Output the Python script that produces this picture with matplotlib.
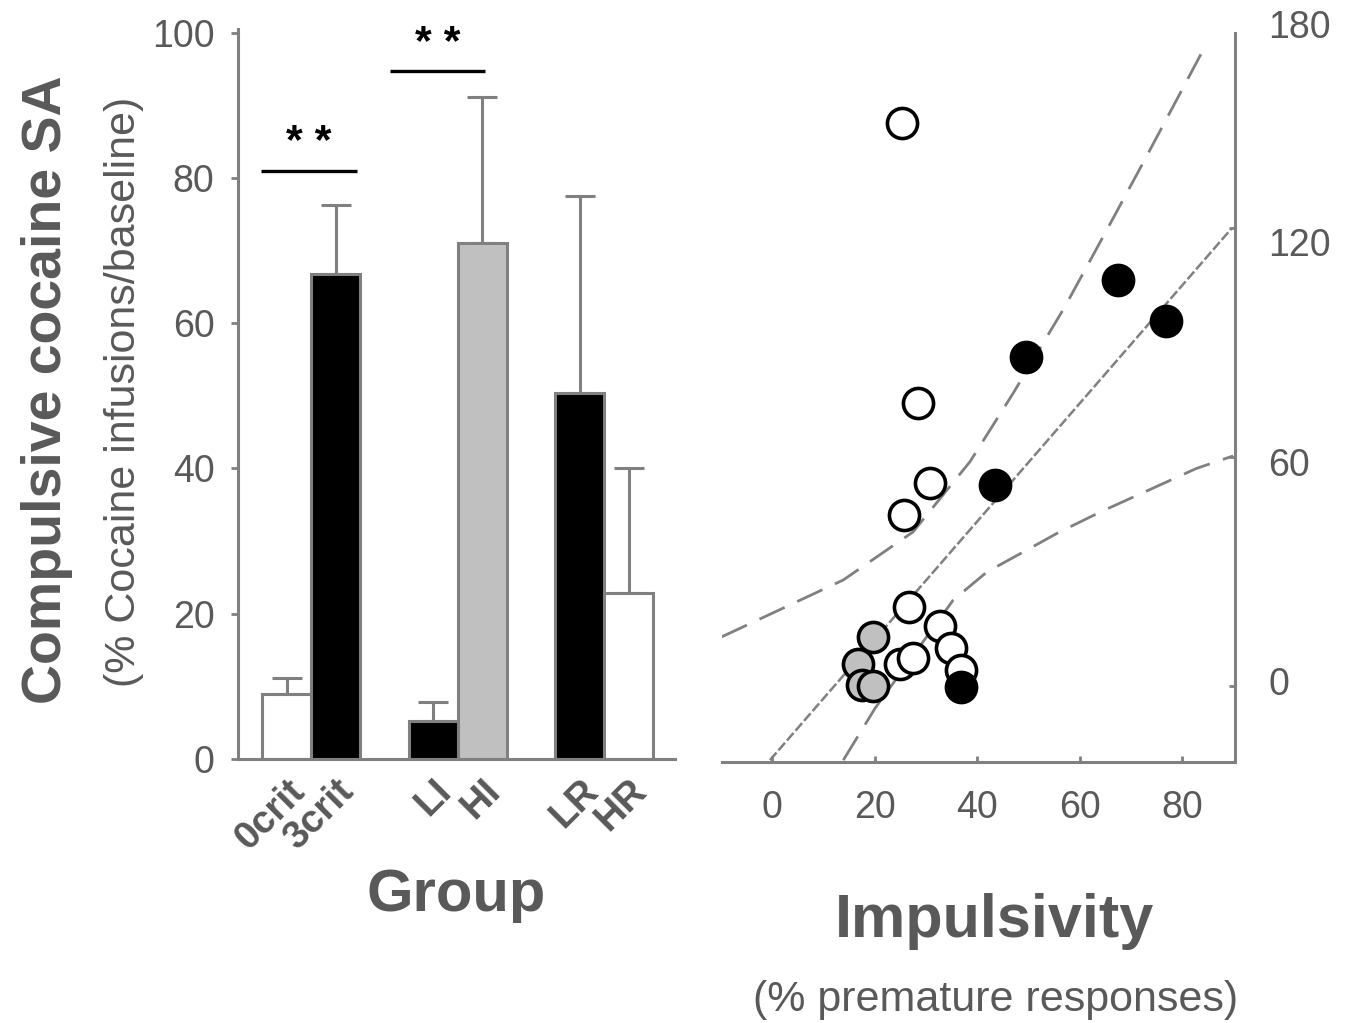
import numpy as np
import matplotlib
matplotlib.use("Agg")
import matplotlib.pyplot as plt

plt.rcParams['font.family'] = ['Liberation Sans', 'DejaVu Sans']

# bar chart data
groups = ["0crit", "3crit", "LI", "HI", "LR", "HR"]
bar_pos = [1, 2, 4, 5, 7, 8]
bar_vals = [9.0, 66.7, 5.2, 71.0, 50.4, 22.9]
bar_err = [2.1, 9.6, 2.6, 20.2, 27.1, 17.1]
bar_cols = ["white", "black", "black", "#c0c0c0", "black", "white"]

# significance bars: (x start, x end, y)
sig_x1 = [0.47, 3.11]
sig_x2 = [2.44, 5.06]
sig_y = [81.0, 94.7]

# scatter data (impulsivity, compulsive SA)
open_x = [25.3, 28.5, 30.8, 25.7, 26.8, 32.7, 34.8, 36.8, 25.0, 27.5]
open_y = [147.5, 74.1, 53.1, 44.8, 20.8, 15.7, 9.9, 4.2, 5.9, 7.3]
black_x = [67.4, 76.8, 49.6, 43.5, 36.8]
black_y = [106.4, 95.7, 86.3, 52.7, -0.2]
grey_x = [19.7, 16.8, 17.5, 19.7]
grey_y = [12.9, 5.9, 0.3, 0.0]

# regression line end points and confidence bands
reg_x = [-0.4, 89.6]
reg_y = [-19.4, 119.9]
upper_x = [-9.8, -0.1, 13.9, 27.5, 38.6, 47.0, 57.1, 64.9, 72.1, 79.2, 84.7]
upper_y = [12.9, 19.0, 27.8, 40.4, 58.8, 76.7, 99.4, 118.6, 136.5, 154.4, 168.3]
lower_x = [13.9, 20.1, 35.3, 41.9, 50.3, 55.8, 64.3, 72.7, 82.7, 89.9]
lower_y = [-19.4, -5.8, 22.5, 29.9, 36.1, 40.2, 45.8, 50.9, 57.0, 60.3]

txt = "#595959"
axc = "#808080"

fig = plt.figure(figsize=(13.51, 10.23), dpi=100)

# ---- left: bars
ax = fig.add_axes([0.1762, 0.2581, 0.3234, 0.7136])
ax.bar(bar_pos, bar_vals, width=1.0, color=bar_cols, edgecolor=axc, linewidth=2.2, zorder=2)
ax.errorbar(bar_pos, bar_vals, yerr=[[0] * 6, bar_err], fmt="none", ecolor=axc,
            elinewidth=2.2, capsize=11, capthick=2.2, zorder=1)
for a, b, y in zip(sig_x1, sig_x2, sig_y):
    ax.plot([a, b], [y, y], color="black", lw=2.4, solid_capstyle="butt", clip_on=False)
    ax.text((a + b) / 2, y + 1.0, "* *", ha="center", va="bottom", fontsize=31,
            fontweight="bold", color="black")

ax.set_xlim(0, 8.95)
ax.set_ylim(0, 100.5)
ax.spines["top"].set_visible(False)
ax.spines["right"].set_visible(False)
for s in ["left", "bottom"]:
    ax.spines[s].set_color(axc)
    ax.spines[s].set_linewidth(2.2)
ax.set_yticks([0, 20, 40, 60, 80, 100])
ax.tick_params(axis="y", direction="out", length=5, width=2, color=axc,
               labelsize=27, labelcolor=txt, pad=12)
ax.set_xticks(bar_pos)
ax.set_xticklabels(groups, rotation=45, ha="right", rotation_mode="anchor",
                   fontsize=28, fontweight="bold", color=txt)
ax.tick_params(axis="x", length=0, pad=10)
ax.set_xlabel("Group", fontsize=43, fontweight="bold", color=txt, labelpad=8)
fig.text(0.035, 0.619, "Compulsive cocaine SA", rotation=90, ha="center", va="center",
         fontsize=40, fontweight="bold", color=txt)
fig.text(0.092, 0.617, "(% Cocaine infusions/baseline)", rotation=90, ha="center",
         va="center", fontsize=31, color=txt)

# ---- right: scatter
ax2 = fig.add_axes([0.5344, 0.2551, 0.3797, 0.7126])
ax2.plot(reg_x, reg_y, color=axc, lw=1.8, ls=(0, (4, 1.2)), zorder=1)
ax2.plot(upper_x, upper_y, color=axc, lw=2.0, ls=(0, (10, 5)), zorder=1)
ax2.plot(lower_x, lower_y, color=axc, lw=2.0, ls=(0, (10, 5)), zorder=1)
ax2.scatter(grey_x, grey_y, s=470, facecolor="#c0c0c0", edgecolor="black", linewidth=2.6, zorder=3)
ax2.scatter(open_x, open_y, s=470, facecolor="white", edgecolor="black", linewidth=2.6, zorder=3)
ax2.scatter(black_x, black_y, s=470, facecolor="black", edgecolor="black", linewidth=2.6, zorder=3)

ax2.set_xlim(-9.75, 90.25)
ax2.set_ylim(-19.9, 171.1)
ax2.spines["top"].set_visible(False)
ax2.spines["left"].set_visible(False)
for s in ["right", "bottom"]:
    ax2.spines[s].set_color(axc)
    ax2.spines[s].set_linewidth(2.2)
ax2.set_xticks([0, 20, 40, 60, 80])
ax2.tick_params(axis="x", direction="in", length=4, width=2, color=axc,
                labelsize=27, labelcolor=txt, pad=20)
ax2.yaxis.tick_right()
ax2.set_yticks([0, 60, 120])
ax2.tick_params(axis="y", direction="in", length=4, width=2, color=axc, labelright=False)
for v, y in zip(["0", "60", "120", "180"], [0.3, 57.6, 115.3, 172.4]):
    ax2.text(1.065, y, v, transform=ax2.get_yaxis_transform(), ha="left", va="center",
             fontsize=27, color=txt, clip_on=False)
fig.text(0.736, 0.099, "Impulsivity", ha="center", va="center", fontsize=44,
         fontweight="bold", color=txt)
fig.text(0.737, 0.022, "(% premature responses)", ha="center", va="center",
         fontsize=31, color=txt)

fig.savefig("out.png", dpi=100)
